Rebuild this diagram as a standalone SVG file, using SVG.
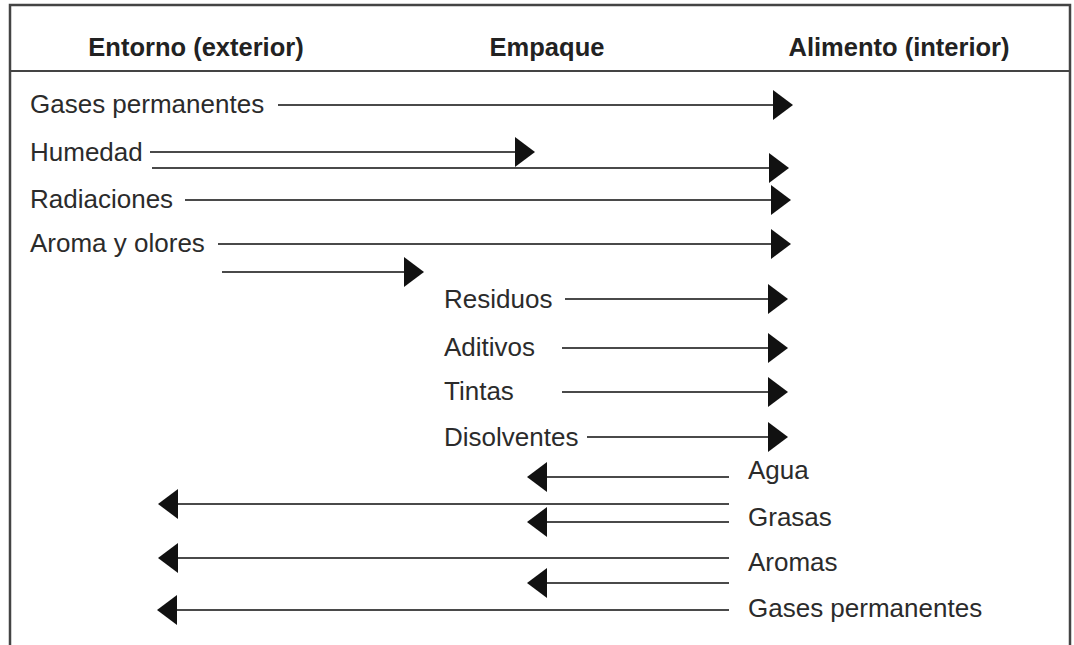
<svg xmlns="http://www.w3.org/2000/svg" width="1074" height="645" viewBox="0 0 1074 645">
<style>
.t{font-family:"Liberation Sans",Arial,Helvetica,sans-serif;font-size:26px;fill:#2b2b2b}
.h{font-family:"Liberation Sans",Arial,Helvetica,sans-serif;font-size:25.5px;font-weight:bold;fill:#222;text-anchor:middle}
.c line{stroke:#4a4a4a;stroke-width:2;marker-end:url(#ah)}
.frame{fill:none;stroke:#444;stroke-width:2.5}
</style>
<defs>
<marker id="ah" markerUnits="userSpaceOnUse" markerWidth="20" markerHeight="30" viewBox="0 0 20 30" refX="0" refY="15" orient="auto">
<path d="M0,0 L20,15 L0,30 z" fill="#111"/>
</marker>
</defs>
<rect width="1074" height="645" fill="#fff"/>
<g id="frame">
<path class="frame" d="M10,645 V5 H1070 V645"/>
<line x1="10" y1="71" x2="1070" y2="71" stroke="#444" stroke-width="2"/>
</g>
<g id="headers">
<text class="h" x="196" y="56">Entorno (exterior)</text>
<text class="h" x="547" y="56">Empaque</text>
<text class="h" x="899" y="56">Alimento (interior)</text>
</g>
<g id="labels">
<g id="n-gases1"><text class="t" x="30" y="113">Gases permanentes</text></g>
<g id="n-humedad"><text class="t" x="30" y="161">Humedad</text></g>
<g id="n-radiaciones"><text class="t" x="30" y="208">Radiaciones</text></g>
<g id="n-aroma"><text class="t" x="30" y="252">Aroma y olores</text></g>
<g id="n-residuos"><text class="t" x="444" y="308">Residuos</text></g>
<g id="n-aditivos"><text class="t" x="444" y="356">Aditivos</text></g>
<g id="n-tintas"><text class="t" x="444" y="400">Tintas</text></g>
<g id="n-disolventes"><text class="t" x="444" y="446">Disolventes</text></g>
<g id="n-agua"><text class="t" x="748" y="479">Agua</text></g>
<g id="n-grasas"><text class="t" x="748" y="526">Grasas</text></g>
<g id="n-aromas"><text class="t" x="748" y="571">Aromas</text></g>
<g id="n-gases2"><text class="t" x="748" y="617">Gases permanentes</text></g>
</g>
<g id="connectors" class="c">
<line x1="278" y1="105" x2="773" y2="105"/>
<line x1="150" y1="152" x2="515" y2="152"/>
<line x1="152" y1="168" x2="769" y2="168"/>
<line x1="185" y1="200" x2="771" y2="200"/>
<line x1="218" y1="244" x2="771" y2="244"/>
<line x1="222" y1="272" x2="404" y2="272"/>
<line x1="565" y1="299" x2="768" y2="299"/>
<line x1="562" y1="348" x2="768" y2="348"/>
<line x1="562" y1="392" x2="768" y2="392"/>
<line x1="587" y1="437" x2="768" y2="437"/>
<line x1="729" y1="477" x2="547" y2="477"/>
<line x1="729" y1="504" x2="178" y2="504"/>
<line x1="729" y1="522" x2="547" y2="522"/>
<line x1="729" y1="558" x2="178" y2="558"/>
<line x1="729" y1="583" x2="547" y2="583"/>
<line x1="729" y1="610" x2="177" y2="610"/>
</g>
</svg>
